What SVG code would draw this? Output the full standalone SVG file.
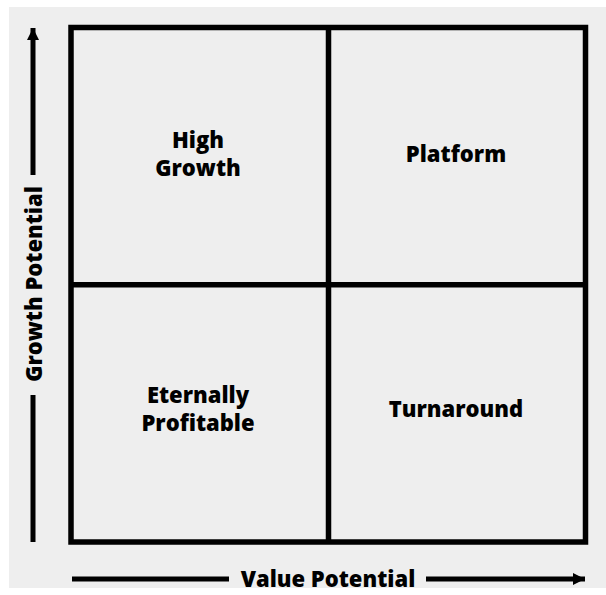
<svg xmlns="http://www.w3.org/2000/svg" width="606" height="595" viewBox="0 0 606 595">
<style>
.frame{fill:none;stroke:#000;stroke-width:5.5}
.ax{stroke:#000;stroke-width:5;fill:none}
.lbl{font-family:"Open Sans","DejaVu Sans",sans-serif;font-weight:800;font-size:22px;fill:#000;text-anchor:middle}
.axl{font-family:"Open Sans","DejaVu Sans",sans-serif;font-weight:800;font-size:22px;fill:#000;text-anchor:middle}
</style>
<defs>
<marker id="ah" viewBox="0 0 10 10" refX="10" refY="5" markerWidth="12" markerHeight="12" markerUnits="userSpaceOnUse" orient="auto">
<path d="M0,0 L10,5 L0,10 z" fill="#000"/>
</marker>
</defs>
<rect x="0" y="0" width="606" height="595" fill="#fff"/>
<rect x="9" y="7" width="597" height="581" fill="#eeeeee"/>
<g id="grid">
<rect class="frame" x="71" y="27.5" width="514.5" height="514.5"/>
<line class="frame" x1="328.5" y1="27.5" x2="328.5" y2="542"/>
<line class="frame" x1="71" y1="284.7" x2="585.5" y2="284.7"/>
</g>
<g id="q-high-growth"><text class="lbl" x="198" y="148">High</text><text class="lbl" x="198" y="175.5">Growth</text></g>
<g id="q-platform"><text class="lbl" x="456" y="162">Platform</text></g>
<g id="q-eternally-profitable"><text class="lbl" x="198" y="403">Eternally</text><text class="lbl" x="198" y="430.5">Profitable</text></g>
<g id="q-turnaround"><text class="lbl" x="456" y="417">Turnaround</text></g>
<g id="axes">
<line class="ax" x1="33" y1="542" x2="33" y2="395"/>
<line class="ax" x1="33" y1="175" x2="33" y2="28" marker-end="url(#ah)"/>
<line class="ax" x1="72" y1="579" x2="229" y2="579"/>
<line class="ax" x1="426" y1="579" x2="585" y2="579" marker-end="url(#ah)"/>
</g>
<g id="axis-labels">
<text class="axl" x="0" y="0" transform="translate(41.5,284) rotate(-90)">Growth Potential</text>
<text class="axl" x="328" y="586.5">Value Potential</text>
</g>
</svg>
